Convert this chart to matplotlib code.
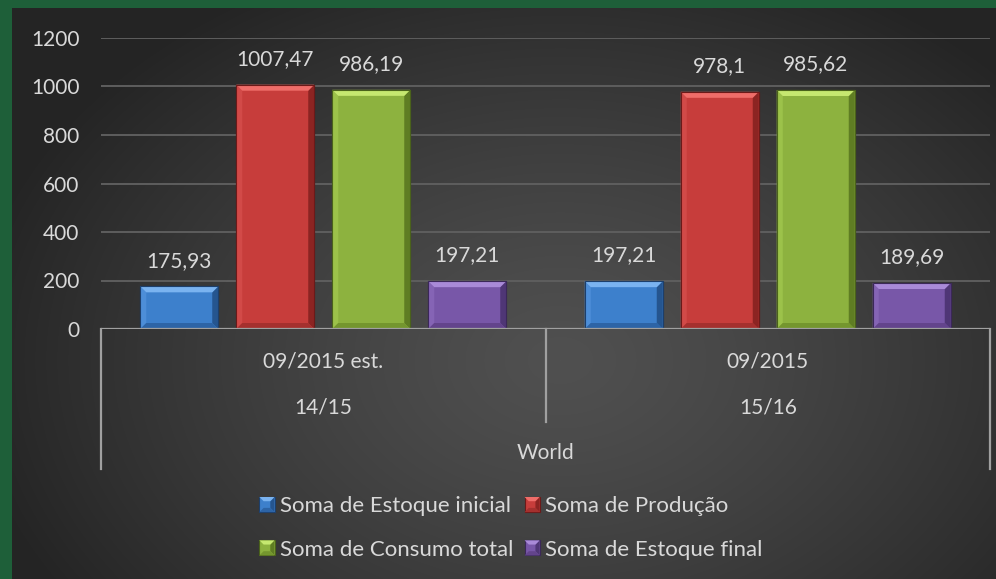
import numpy as np
import matplotlib
matplotlib.use("Agg")
import matplotlib.pyplot as plt
from matplotlib.patches import Polygon, Rectangle
from matplotlib.legend_handler import HandlerBase
import matplotlib.transforms as mtransforms

# ---------------- data ----------------
categories = ["09/2015 est.\n\n14/15", "09/2015\n\n15/16"]
cat_top = ["09/2015 est.", "09/2015"]
cat_mid = ["14/15", "15/16"]
group_label = "World"
series_names = ["Soma de Estoque inicial", "Soma de Produção",
                "Soma de Consumo total", "Soma de Estoque final"]
estoque_inicial = [175.93, 197.21]
producao = [1007.47, 978.1]
consumo_total = [986.19, 985.62]
estoque_final = [197.21, 189.69]
y_ticks = [0, 200, 400, 600, 800, 1000, 1200]

# ---------------- style ----------------
plt.rcParams['font.family'] = ['Lato', 'DejaVu Sans']
TXT = '#d9d9d9'
FS = 15
# face, top, left, right, bottom, edge
palettes = [
    ('#3d80cc', '#7ab3f0', '#4d8ed8', '#25558f', '#2d64a6', '#1d3f6b'),
    ('#c73d3b', '#ef6d69', '#d24a48', '#8c2422', '#a5302e', '#6b1a19'),
    ('#8db23f', '#c6e870', '#9cc24a', '#5f7d23', '#74962e', '#4a621b'),
    ('#7857a8', '#a98ad8', '#8564b5', '#4f3676', '#63448c', '#3b2858'),
]

W, H = 996, 579
fig = plt.figure(figsize=(W / 100, H / 100), dpi=100)

# background gradient
bg = fig.add_axes([0, 0, 1, 1])
bg.set_axis_off()
yy, xx = np.mgrid[0:H, 0:W]
d = np.sqrt(((xx - 560) / 600.0) ** 2 + ((yy - 360) / 430.0) ** 2)
d = np.clip(d, 0, 1)
c0, c1 = 80 / 255, 36 / 255
val = c0 + (c1 - c0) * d ** 1.3
img = np.dstack([val, val, val])
bg.imshow(img, extent=[0, W, H, 0], aspect='auto', interpolation='bilinear')
bg.set_xlim(0, W)
bg.set_ylim(H, 0)
bg.add_patch(Rectangle((0, 0), 12, H, color='#1e5f39', lw=0))
bg.add_patch(Rectangle((0, 0), W, 8, color='#1e5f39', lw=0))

# main axes
L, R, T, B = 101, 990, 38, 329
ax = fig.add_axes([L / W, (H - B) / H, (R - L) / W, (B - T) / H])
ax.patch.set_alpha(0)
ax.set_xlim(-0.5, 1.5)
ax.set_ylim(0, 1200)
ax.set_yticks(y_ticks)
ax.set_yticklabels([str(t) for t in y_ticks], color=TXT, fontsize=FS)
ax.tick_params(axis='y', length=0, pad=15.5)
ax.set_xticks([])
for s in ax.spines.values():
    s.set_visible(False)
for t in y_ticks[1:]:
    ax.axhline(t, color='#5e5e5e', lw=1.4, zorder=1)

dx = 2.0 / (R - L)
dy = 1200.0 / (B - T)
bev = 6

xs = np.arange(len(categories))
all_series = [estoque_inicial, producao, consumo_total, estoque_final]
step = 96 * dx
bw = 78 * dx

for i, (vals, pal) in enumerate(zip(all_series, palettes)):
    off = (i - 1.5) * step
    bars = ax.bar(xs + off, vals, width=bw, color=pal[0], edgecolor=pal[5],
                  linewidth=0.8, zorder=3)
    for rect, v in zip(bars, vals):
        x0, w, h = rect.get_x(), rect.get_width(), rect.get_height()
        bx, by = bev * dx, bev * dy
        top = [(x0, h), (x0 + w, h), (x0 + w - bx, h - by), (x0 + bx, h - by)]
        left = [(x0, 0), (x0, h), (x0 + bx, h - by), (x0 + bx, by)]
        right = [(x0 + w, 0), (x0 + w, h), (x0 + w - bx, h - by), (x0 + w - bx, by)]
        bot = [(x0, 0), (x0 + w, 0), (x0 + w - bx, by), (x0 + bx, by)]
        for poly, col in ((left, pal[2]), (right, pal[3]), (bot, pal[4]), (top, pal[1])):
            ax.add_patch(Polygon(poly, closed=True, facecolor=col, edgecolor='none', zorder=4))
        ax.add_patch(Rectangle((x0, 0), w, h, facecolor='none', edgecolor=pal[5], lw=0.8, zorder=5))
        ax.annotate(f"{v:g}".replace('.', ','), (x0 + w / 2, h), xytext=(0, 18.5),
                    textcoords='offset points', ha='center', va='center',
                    color=TXT, fontsize=FS, zorder=6)

# category axis
ax.axhline(0, color='#a0a0a0', lw=1.6, zorder=7)
bt = mtransforms.blended_transform_factory(ax.transData, ax.transAxes)
ah = B - T
deep = -(469 - B) / ah
mid = -(422 - B) / ah
for xv, yb in ((-0.5, deep), (0.5, mid), (1.5, deep)):
    ax.plot([xv, xv], [0, yb], color='#a0a0a0', lw=1.6, transform=bt, clip_on=False, zorder=7)
for xv, a, b in zip(xs, cat_top, cat_mid):
    ax.text(xv, -(362 - B) / ah, a, transform=bt, ha='center', va='center', color=TXT, fontsize=FS)
    ax.text(xv, -(407 - B) / ah, b, transform=bt, ha='center', va='center', color=TXT, fontsize=FS)
ax.text(0.5, -(453 - B) / ah, group_label, transform=bt, ha='center', va='center', color=TXT, fontsize=FS)


# legend with bevelled squares
class BevelHandle:
    def __init__(self, pal):
        self.pal = pal


class HandlerBevel(HandlerBase):
    def create_artists(self, legend, orig, xd, yd, width, height, fontsize, trans):
        pal = orig.pal
        s = min(width, height)
        x0 = -xd + (width - s) / 2
        y0 = -yd + (height - s) / 2
        b = s * 0.28
        arts = []
        face = Rectangle((x0, y0), s, s, facecolor=pal[0], edgecolor=pal[5], lw=0.8, transform=trans)
        arts.append(face)
        top = [(x0, y0 + s), (x0 + s, y0 + s), (x0 + s - b, y0 + s - b), (x0 + b, y0 + s - b)]
        right = [(x0 + s, y0), (x0 + s, y0 + s), (x0 + s - b, y0 + s - b), (x0 + s - b, y0 + b)]
        bot = [(x0, y0), (x0 + s, y0), (x0 + s - b, y0 + b), (x0 + b, y0 + b)]
        for poly, col in ((right, pal[3]), (bot, pal[4]), (top, pal[1])):
            arts.append(Polygon(poly, closed=True, facecolor=col, edgecolor='none', transform=trans))
        return arts


LFS = 16
order = [0, 2, 1, 3]
handles = [BevelHandle(palettes[i]) for i in order]
labels = [series_names[i] for i in order]
fig.legend(handles, labels, handler_map={BevelHandle: HandlerBevel()},
           ncol=2, loc='center', bbox_to_anchor=(511 / W, 1 - 528 / H),
           frameon=False, fontsize=LFS, labelcolor=TXT,
           handlelength=0.68, handleheight=0.68, handletextpad=0.25,
           columnspacing=0.5, labelspacing=1.05, borderpad=0)

fig.savefig("out.png", dpi=100)
